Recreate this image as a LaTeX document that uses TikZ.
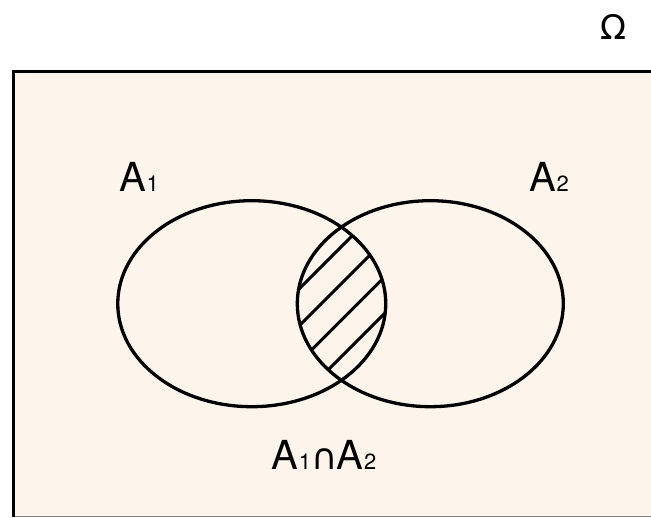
\documentclass[tikz,border=0pt]{standalone}
\usepackage{fontspec}
\setmainfont{TeX Gyre Heros}
\newfontfamily\symfont{DejaVu Sans}
\definecolor{cream}{RGB}{253,245,236}
\begin{document}
\begin{tikzpicture}[x=1pt,y=-1pt,
  setline/.style={line width=3.3pt,black},
  hatchline/.style={line width=3.1pt,black},
  lbl/.style={inner sep=0pt,outer sep=0pt,font=\fontsize{40}{40}\selectfont}]
\useasboundingbox (0,0) rectangle (651,518);
\fill[white] (0,0) rectangle (651,518);
% universe box
\fill[cream] (13.5,71.5) rectangle (660,517);
\draw[line width=1pt,gray] (13.5,517) -- (660,517);
\draw[line width=3.3pt,black] (13.5,517) -- (13.5,71.5) -- (660,71.5);
% hatching in the lens
\begin{scope}
  \clip (251.75,303.7) ellipse [x radius=134, y radius=103];
  \clip (430.3,303.7) ellipse [x radius=133, y radius=103];
  \foreach \c in {588,625,661.5,698}
    \draw[hatchline] (\c-150,150) -- (\c-450,450);
\end{scope}
% sets
\draw[setline] (251.75,303.7) ellipse [x radius=134, y radius=103];
\draw[setline] (430.3,303.7) ellipse [x radius=133, y radius=103];
% labels
\node[lbl,anchor=base west] (a1) at (119,192) {A\kern1pt{\fontsize{22}{22}\selectfont 1}};
\node[lbl,anchor=base west] (a2) at (529,192) {A\kern1pt{\fontsize{22}{22}\selectfont 2}};
\node[lbl,anchor=base] (a12) at (324,470) {A\kern0.5pt{\fontsize{22}{22}\selectfont 1}\kern0.5pt{\symfont\fontsize{36}{36}\selectfont ∩}\kern-1pt A\kern0.5pt{\fontsize{22}{22}\selectfont 2}};
\node[inner sep=0pt,anchor=base,font=\symfont\fontsize{34}{34}\selectfont] (om) at (613,40) {Ω};
\end{tikzpicture}
\end{document}
